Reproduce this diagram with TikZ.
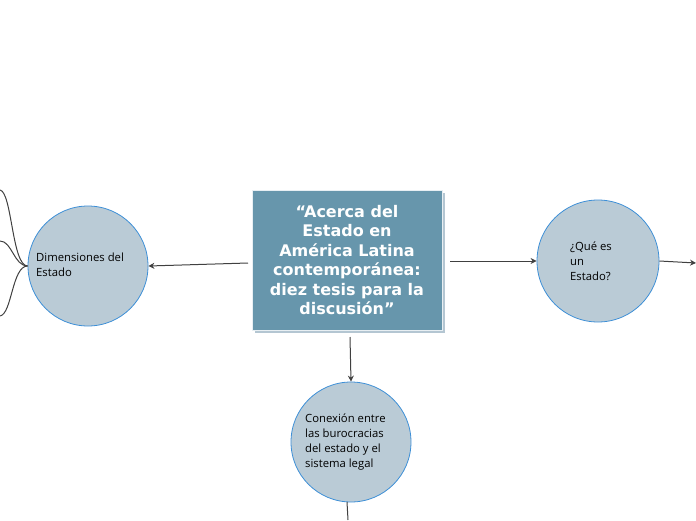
\documentclass[tikz,border=0pt]{standalone}
\usepackage{fontspec}
\setmainfont{Open Sans}
\newfontfamily\titlefont{DejaVu Sans}
\usetikzlibrary{arrows.meta, positioning}
\definecolor{boxfill}{HTML}{6796AC}
\definecolor{boxshadow}{HTML}{B4C6D2}
\definecolor{circfill}{HTML}{BACBD6}
\definecolor{circline}{HTML}{3D8FD6}
\definecolor{linkcol}{HTML}{404040}

\begin{document}
\begin{tikzpicture}[x=1pt, y=-1pt,
  topic/.style={circle, draw=circline, fill=circfill, line width=0.8pt,
                minimum size=120pt, inner sep=0pt},
  label/.style={align=left, inner sep=0pt, font=\fontsize{11.3}{15}\selectfont, text=black},
  link/.style={draw=linkcol, line width=1pt, -{Stealth[length=6pt, width=6pt]}},
  branch/.style={draw=linkcol, line width=1pt}]
  \useasboundingbox (0,0) rectangle (696,520);
  % central title
  \fill[boxshadow] (255,193) rectangle (445,333);
  \node[draw=white!85!boxfill, fill=boxfill, line width=0.9pt, minimum width=190pt,
        minimum height=140pt, inner sep=0pt, align=center, text=white,
        font=\titlefont\bfseries\fontsize{16}{19.5}\selectfont] (main) at (347,260)
        {“Acerca del\\Estado en\\América Latina\\contemporánea:\\diez tesis para la\\discusión”};
  % topics
  \node[topic] (dim) at (88,266) {};
  \node[label, anchor=west] at (36,265) {Dimensiones del\\Estado};
  \node[topic, minimum size=122pt] (que) at (598,261) {};
  \node[label, anchor=west] at (570,261) {¿Qué es\\un\\Estado?};
  \node[topic] (con) at (351,442) {};
  \node[label, anchor=west] at (305,442) {Conexión entre\\las burocracias\\del estado y el\\sistema legal};
  % connectors
  \draw[link] (248,263) -- (dim.east);
  \draw[link] (450,261) -- (que.west);
  \draw[link] (350,337) -- (con.north);
  \coordinate (queout) at (696,263);
  \draw[link] (que.east) -- (queout);
  \coordinate (conout) at (348,520);
  \draw[branch] (347,502) -- (conout);
  % branches to the left
  \coordinate (b1) at (0,190);
  \coordinate (b2) at (0,241);
  \coordinate (b3) at (0,316);
  \draw[branch] (dim.west) .. controls (12,266) and (12,192) .. (b1);
  \draw[branch] (dim.west) .. controls (14,266) and (12,241) .. (b2);
  \draw[branch] (dim.west) .. controls (12,266) and (12,314) .. (b3);
\end{tikzpicture}
\end{document}
